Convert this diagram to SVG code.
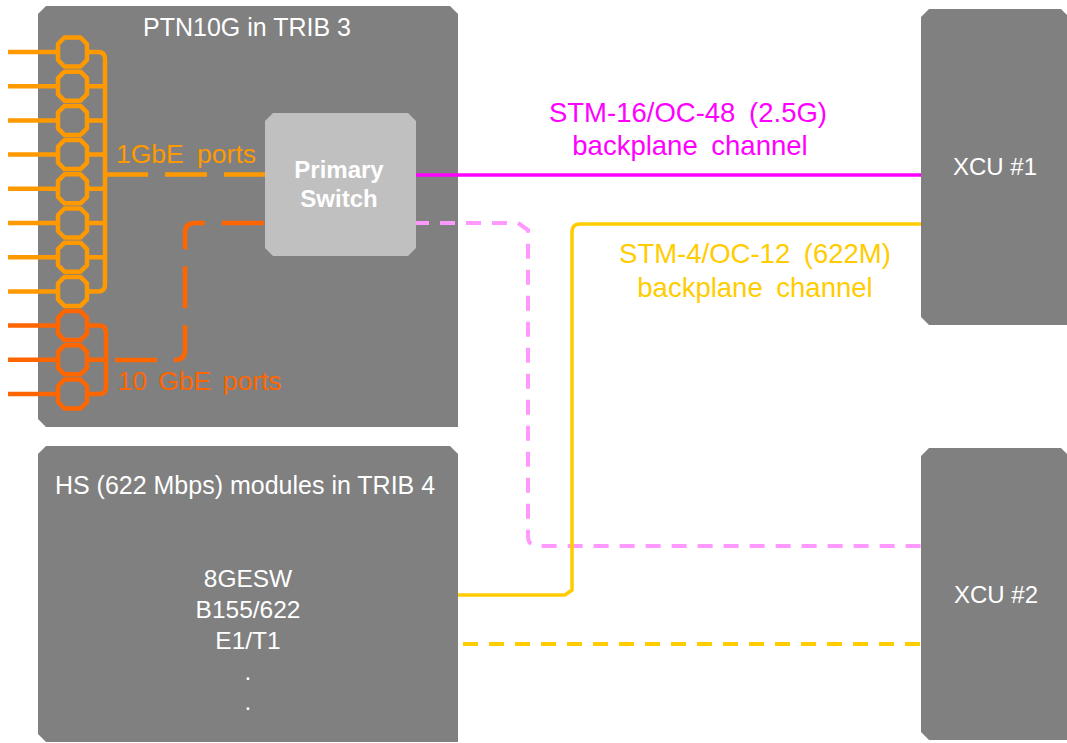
<svg xmlns="http://www.w3.org/2000/svg" width="1067" height="743" viewBox="0 0 1067 743">
<style>
.box{fill:#808080}
.sw{fill:#C0C0C0}
.t{font-family:"Liberation Sans",Arial,sans-serif;fill:#FFFFFF;text-anchor:middle}
.lbl{font-family:"Liberation Sans",Arial,sans-serif;text-anchor:middle}
.o1{stroke:#FF9900;fill:none;stroke-width:4.5}
.o2{stroke:#FF6600;fill:none;stroke-width:4.5}
.oct{stroke-linejoin:round}
.mag{stroke:#FF00FF;stroke-width:3.5;fill:none}
.pink{stroke:#FF99FF;stroke-width:4;fill:none;stroke-dasharray:15 11}
.yel{stroke:#FFCC00;stroke-width:3.5;fill:none}
.yeld{stroke:#FFCC00;stroke-width:4;fill:none;stroke-dasharray:15 11}
</style>
<defs>
<path id="oct" d="M-8,-14.5 H8 L14.5,-8 V8 L8,14.5 H-8 L-14.5,8 V-8 Z"/>
</defs>
<rect width="1067" height="743" fill="#FFFFFF"/>

<g id="ptn10g">
<path class="box" d="M46,6 H450 L458,14 V427 H46 L38,419 V14 Z"/>
<text class="t" x="247" y="36" font-size="25">PTN10G in TRIB 3</text>
</g>

<g id="hs">
<path class="box" d="M46,446 H450 L458,454 V742 H46 L38,734 V454 Z"/>
<text class="t" x="245" y="494" font-size="25">HS (622 Mbps) modules in TRIB 4</text>
<text class="t" x="248" y="587" font-size="24.5">8GESW</text>
<text class="t" x="248" y="618" font-size="24.5">B155/622</text>
<text class="t" x="248" y="649" font-size="24.5">E1/T1</text>
<text class="t" x="248" y="680" font-size="24.5">.</text>
<text class="t" x="248" y="710" font-size="24.5">.</text>
</g>

<g id="ports">
<g class="o1">
<path d="M8,52 H58 M8,86.2 H58 M8,120.4 H58 M8,154.6 H58 M8,188.8 H58 M8,223 H58 M8,257.2 H58 M8,291.4 H58"/>
<path d="M86,52 H98 Q105,52 105,59 V284.4 Q105,291.4 98,291.4 H86 M86,86.2 H105 M86,120.4 H105 M86,154.6 H105 M86,188.8 H105 M86,223 H105 M86,257.2 H105"/>
<use href="#oct" class="oct" x="72.5" y="52"/>
<use href="#oct" class="oct" x="72.5" y="86.2"/>
<use href="#oct" class="oct" x="72.5" y="120.4"/>
<use href="#oct" class="oct" x="72.5" y="154.6"/>
<use href="#oct" class="oct" x="72.5" y="188.8"/>
<use href="#oct" class="oct" x="72.5" y="223"/>
<use href="#oct" class="oct" x="72.5" y="257.2"/>
<use href="#oct" class="oct" x="72.5" y="291.4"/>
</g>
<g class="o2">
<path d="M8,325.6 H58 M8,359.8 H58 M8,394 H58"/>
<path d="M86,325.6 H99 Q106,325.6 106,332.6 V387 Q106,394 99,394 H86 M86,359.8 H106"/>
<use href="#oct" class="oct" x="72.5" y="325.6"/>
<use href="#oct" class="oct" x="72.5" y="359.8"/>
<use href="#oct" class="oct" x="72.5" y="394"/>
</g>
<text class="lbl" x="186" y="163" font-size="26.5" fill="#FF9900" word-spacing="6">1GbE ports</text>
<text class="lbl" x="199.5" y="390" font-size="26.5" fill="#FF6600" word-spacing="4">10 GbE ports</text>
</g>

<g id="connectors">
<path class="o1" d="M106,174.5 H265" stroke-dasharray="42 17"/>
<path class="o2" d="M115,360 H175 Q185,360 185,350 V233 Q185,223 195,223 H265" stroke-dasharray="42 17"/>
<path class="mag" d="M416,175 H921"/>
<path class="pink" d="M414,223 H518 L528,230 V536 Q528,546 538,546 H921"/>
<path class="yel" d="M458,595 H565 L572,590 V232 Q572,224 580,224 H921"/>
<path class="yeld" d="M463,644 H921"/>
<text class="lbl" x="688" y="122" font-size="27.5" fill="#FF00FF" word-spacing="6">STM-16/OC-48 (2.5G)</text>
<text class="lbl" x="690" y="155" font-size="27.5" fill="#FF00FF" word-spacing="6">backplane channel</text>
<text class="lbl" x="755" y="263" font-size="27.5" fill="#FFCC00" word-spacing="6">STM-4/OC-12 (622M)</text>
<text class="lbl" x="755" y="297" font-size="27.5" fill="#FFCC00" word-spacing="6">backplane channel</text>
</g>

<g id="switch">
<path class="sw" d="M273,113 H408 L416,121 V248 L408,256 H273 L265,248 V121 Z"/>
<text class="t" x="339" y="178" font-size="24" font-weight="bold">Primary</text>
<text class="t" x="339" y="207" font-size="24" font-weight="bold">Switch</text>
</g>

<g id="xcu1">
<path class="box" d="M929,9 H1061 L1067,15 V325 H929 L921,317 V17 Z"/>
<text class="t" x="995" y="175" font-size="24">XCU #1</text>
</g>

<g id="xcu2">
<path class="box" d="M929,448 H1061 L1067,454 V740 H929 L921,732 V456 Z"/>
<text class="t" x="996" y="603" font-size="24">XCU #2</text>
</g>
</svg>
